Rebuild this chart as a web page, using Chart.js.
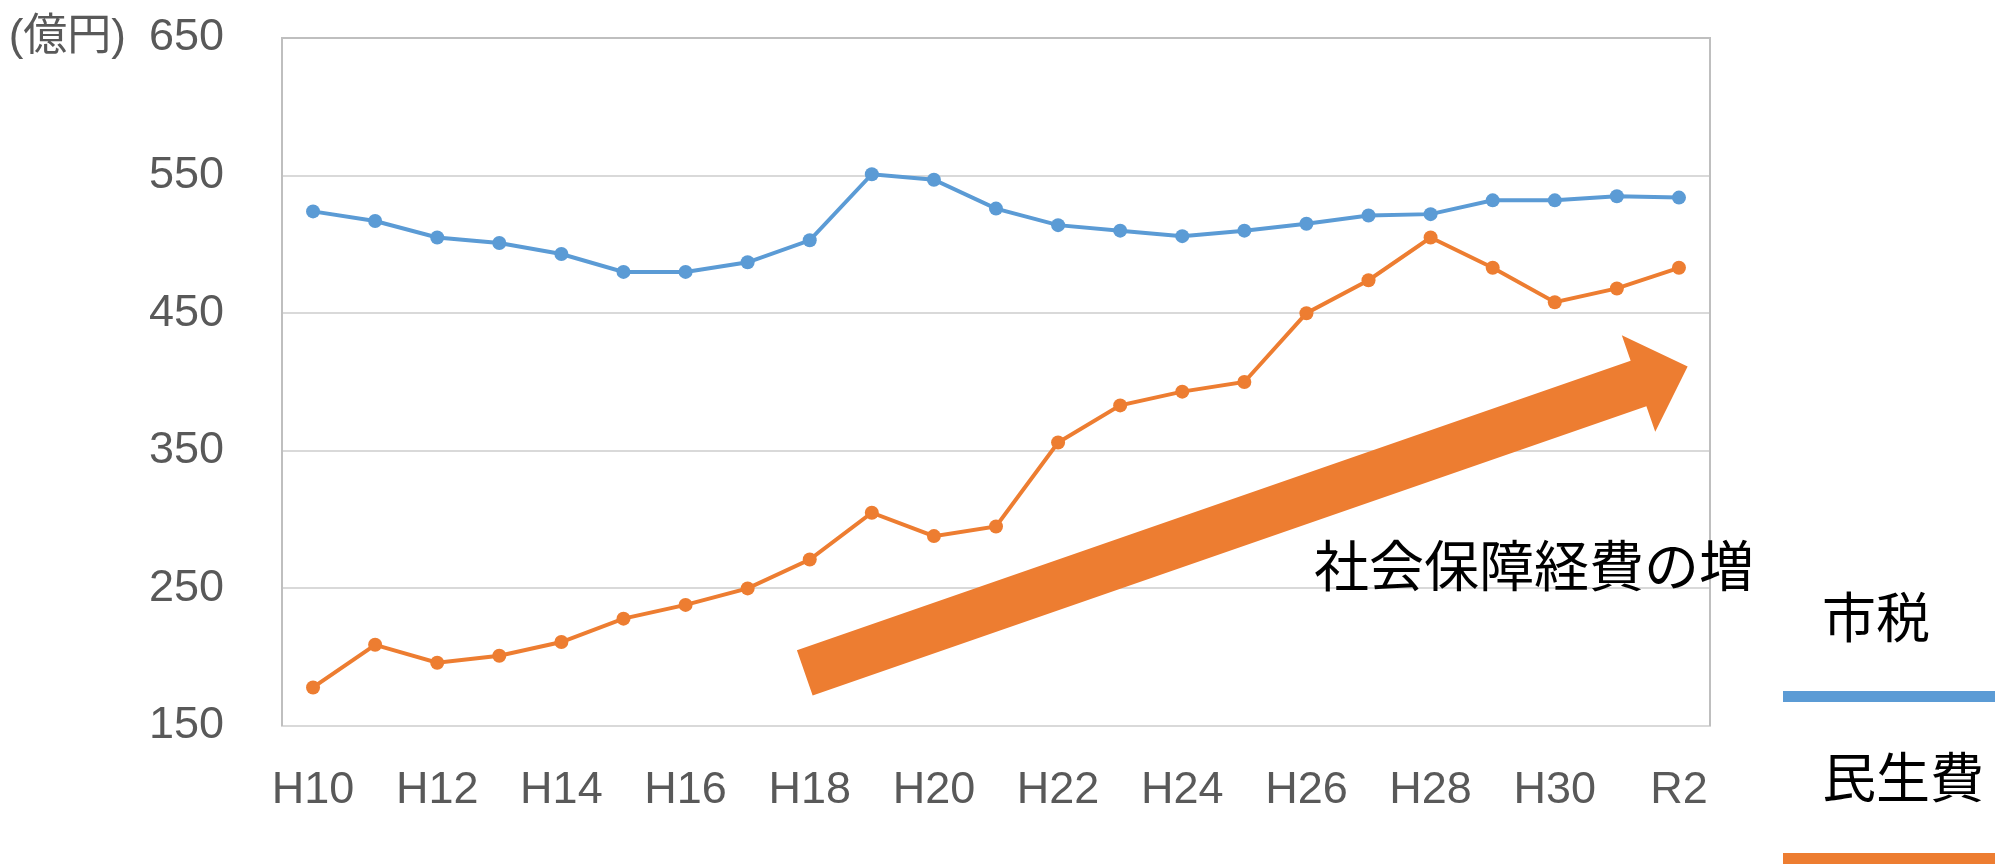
<!DOCTYPE html>
<html lang="ja">
<head>
<meta charset="utf-8">
<title>市税と民生費の推移</title>
<script src="https://cdn.jsdelivr.net/npm/chart.js@4/dist/chart.umd.min.js"></script>
<style>
  html, body { margin: 0; padding: 0; background: #fff; }
  #wrap { width: 1995px; height: 866px; position: relative; }
</style>
</head>
<body>
<div id="wrap"><canvas id="chart"></canvas></div>
<script>
// ===== DATA =====
const years = ['H10', 'H11', 'H12', 'H13', 'H14', 'H15', 'H16', 'H17', 'H18', 'H19', 'H20',
  'H21', 'H22', 'H23', 'H24', 'H25', 'H26', 'H27', 'H28', 'H29', 'H30', 'R1', 'R2'];
const cityTax = [524, 517, 505, 501, 493, 480, 480, 487, 503, 551, 547, 526, 514, 510, 506, 510, 515, 521, 522, 532, 532, 535, 534];
const welfare = [178, 209, 196, 201, 211, 228, 238, 250, 271, 305, 288, 295, 356, 383, 393, 400, 450, 474, 505, 483, 458, 468, 483];
const yTicks = [150, 250, 350, 450, 550, 650];
const unitLabel = '(億円)';
const trendLabel = '社会保障経費の増';
// arrow tail / tip in data units (category index, 億円)
const trendFrom = [7.92, 188.6];
const trendTo = [22.14, 411.3];
const trendTextAt = [16.12, 267];

const BLUE = '#5B9BD5';
const ORANGE = '#ED7D31';
const GREY = '#595959';
const NUM_FONT = '"Liberation Sans", Arial, ';
const JP_FONT = '"Noto Sans CJK JP", sans-serif';

// plot frame (top / left / right), bottom comes from the x axis line
const frame = {
  id: 'frame',
  beforeDatasetsDraw(chart) {
    const { ctx, chartArea: a } = chart;
    ctx.save();
    ctx.strokeStyle = '#bfbfbf';
    ctx.lineWidth = 2;
    ctx.beginPath();
    ctx.moveTo(a.left, a.bottom);
    ctx.lineTo(a.left, a.top);
    ctx.lineTo(a.right, a.top);
    ctx.lineTo(a.right, a.bottom);
    ctx.stroke();
    ctx.restore();
  }
};

// unit label left of the top tick
const unit = {
  id: 'unit',
  afterDraw(chart) {
    const { ctx } = chart;
    const y = chart.scales.y.getPixelForValue(yTicks[yTicks.length - 1]);
    ctx.save();
    ctx.font = '44px ' + NUM_FONT + JP_FONT;
    ctx.fillStyle = GREY;
    ctx.textAlign = 'right';
    ctx.textBaseline = 'middle';
    ctx.fillText(unitLabel, 126, y);
    ctx.restore();
  }
};

// big trend arrow + caption
const trend = {
  id: 'trend',
  afterDatasetsDraw(chart) {
    const { ctx, scales: { x, y } } = chart;
    const tx = x.getPixelForValue(trendFrom[0]), ty = y.getPixelForValue(trendFrom[1]);
    const px = x.getPixelForValue(trendTo[0]), py = y.getPixelForValue(trendTo[1]);
    const len = Math.hypot(px - tx, py - ty);
    const ux = (px - tx) / len, uy = (py - ty) / len;
    const nx = uy, ny = -ux; // normal pointing up
    const w = 24, hw = 51, hl = 52;
    const bx = px - ux * hl, by = py - uy * hl;
    ctx.save();
    ctx.fillStyle = ORANGE;
    ctx.beginPath();
    ctx.moveTo(tx + nx * w, ty + ny * w);
    ctx.lineTo(bx + nx * w, by + ny * w);
    ctx.lineTo(bx + nx * hw, by + ny * hw);
    ctx.lineTo(px, py);
    ctx.lineTo(bx - nx * hw, by - ny * hw);
    ctx.lineTo(bx - nx * w, by - ny * w);
    ctx.lineTo(tx - nx * w, ty - ny * w);
    ctx.closePath();
    ctx.fill();

    ctx.font = '55px ' + JP_FONT;
    ctx.fillStyle = '#000';
    ctx.textAlign = 'left';
    ctx.textBaseline = 'middle';
    ctx.fillText(trendLabel, x.getPixelForValue(trendTextAt[0]), y.getPixelForValue(trendTextAt[1]));
    ctx.restore();
  }
};

// legend at the right: name above a thick coloured bar
const sideLegend = {
  id: 'sideLegend',
  afterDraw(chart) {
    const { ctx, chartArea: a } = chart;
    ctx.save();
    chart.data.datasets.forEach((ds, i) => {
      const textY = 617 + i * 160;
      const barY = 696 + i * 162;
      ctx.font = '54px ' + JP_FONT;
      ctx.fillStyle = '#000';
      ctx.textAlign = 'left';
      ctx.textBaseline = 'middle';
      ctx.fillText(ds.label, a.right + 112, textY);
      ctx.fillStyle = ds.borderColor;
      ctx.fillRect(a.right + 73, barY - 5, chart.width - a.right - 73, 11);
    });
    ctx.restore();
  }
};

new Chart(document.getElementById('chart'), {
  type: 'line',
  data: {
    labels: years,
    datasets: [{
      label: '市税',
      data: cityTax,
      borderColor: BLUE,
      backgroundColor: BLUE,
      borderWidth: 4,
      pointRadius: 7,
      pointBorderWidth: 0,
      tension: 0
    }, {
      label: '民生費',
      data: welfare,
      borderColor: ORANGE,
      backgroundColor: ORANGE,
      borderWidth: 4,
      pointRadius: 7,
      pointBorderWidth: 0,
      tension: 0
    }]
  },
  options: {
    responsive: true,
    maintainAspectRatio: false,
    animation: false,
    events: [],
    layout: { padding: { top: 38, right: 285, bottom: 0, left: 0 } },
    plugins: {
      legend: { display: false },
      tooltip: { enabled: false }
    },
    scales: {
      x: {
        offset: true,
        grid: { display: false, drawTicks: false },
        border: { display: true, color: '#d9d9d9', width: 2 },
        ticks: {
          autoSkip: false,
          maxRotation: 0,
          padding: 38,
          color: GREY,
          font: { family: NUM_FONT + 'sans-serif', size: 45 },
          callback: (v, i) => (i % 2 === 0 ? years[i] : '')
        },
        afterFit: s => { s.height = 140; s.paddingLeft = 0; s.paddingRight = 0; }
      },
      y: {
        min: 150,
        max: 650,
        afterBuildTicks: s => { s.ticks = yTicks.map(v => ({ value: v })); },
        grid: { color: '#d9d9d9', lineWidth: 2, drawTicks: false },
        border: { display: false },
        ticks: {
          padding: 58,
          color: GREY,
          font: { family: NUM_FONT + 'sans-serif', size: 45 }
        },
        afterFit: s => { s.width = 282; s.paddingTop = 0; s.paddingBottom = 0; }
      }
    }
  },
  plugins: [frame, trend, unit, sideLegend]
});
</script>
</body>
</html>
